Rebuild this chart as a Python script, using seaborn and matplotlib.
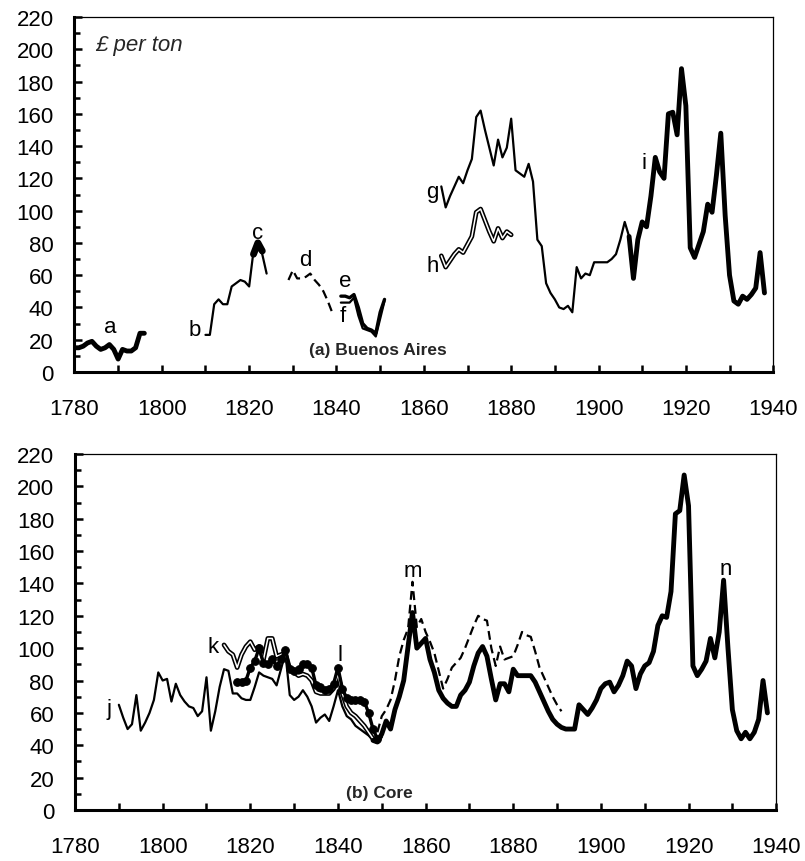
import numpy as np
import pandas as pd
import matplotlib
matplotlib.use("Agg")
import matplotlib.pyplot as plt
import seaborn as sns
from matplotlib.ticker import MultipleLocator

sns.set_theme(style="ticks")
plt.rcParams['font.family'] = ['Liberation Sans', 'DejaVu Sans']

# ---------------- Panel (a) Buenos Aires ----------------
a_years = list(range(1780, 1797))
a_vals = [15, 15, 16, 18, 19, 16, 14, 15, 17, 14, 8, 14, 13, 13, 15, 24, 24]

b_years = list(range(1810, 1825))
b_vals = [23, 23, 42, 45, 42, 42, 53, 55, 57, 56, 53, 75, 78, 73, 61]

c_years = [1821, 1822, 1823]
c_vals = [73, 80, 75]

d_years = list(range(1829, 1840))
d_vals = [57, 63, 58, 58, 59, 61, 57, 54, 50, 44, 37]

e_years = list(range(1841, 1852))
e_vals = [47, 47, 46, 48, 40, 30, 27, 26, 24, 37, 45]

f_years = list(range(1841, 1852))
f_vals = [43, 43, 43, 46, 35, 27, 26, 25, 22, 33, 44]

g_years = list(range(1864, 1908))
g_vals = [115, 102, 109, 115, 121, 117, 125, 132, 158, 162, 150, 139, 128, 144,
          133, 139, 157, 125, 123, 121, 129, 118, 82, 78, 55, 49, 45, 40, 39, 41,
          37, 65, 58, 61, 60, 68, 68, 68, 68, 70, 73, 82, 93, 84]

h_years = list(range(1864, 1881))
h_vals = [72, 65, 69, 73, 76, 74, 79, 84, 99, 101, 94, 87, 81, 89, 83, 87, 85]

i_years = list(range(1907, 1939))
i_vals = [84, 58, 82, 93, 90, 109, 133, 124, 120, 160, 161, 147, 188, 165, 77,
          71, 79, 87, 104, 99, 122, 148, 97, 60, 44, 42, 47, 45, 48, 52, 74, 49]

# ---------------- Panel (b) Core ----------------
j_years = list(range(1790, 1851))
j_vals = [65, 57, 50, 53, 71, 49, 54, 60, 68, 85, 80, 81, 67, 78, 71, 67, 64, 63,
          58, 61, 82, 49, 61, 76, 87, 86, 72, 72, 69, 68, 68, 76, 85, 83, 82, 81,
          77, 87, 97, 71, 68, 70, 74, 70, 64, 54, 57, 59, 55, 64, 74, 64, 58, 56,
          52, 50, 48, 46, 43, 42, 45]

k_years = list(range(1814, 1850))
k_vals = [102, 98, 96, 88, 96, 101, 104, 99, 101, 93, 106, 106, 95, 96, 97, 87,
          85, 83, 84, 83, 80, 73, 72, 72, 72, 75, 84, 72, 64, 60, 58, 55, 52, 48,
          44, 43]

l_years = list(range(1817, 1850))
l_vals = [79, 79, 80, 88, 92, 100, 91, 90, 93, 89, 93, 99, 87, 86, 87, 90, 90,
          88, 77, 76, 74, 75, 78, 88, 75, 69, 68, 68, 68, 67, 60, 50, 44]

m_years = list(range(1849, 1892))
m_vals = [48, 58, 62, 68, 80, 95, 105, 112, 141, 113, 118, 110, 104, 97, 86, 75,
          81, 88, 91, 94, 100, 107, 114, 120, 118, 117, 100, 89, 101, 93, 94, 95,
          102, 110, 108, 107, 98, 88, 82, 76, 70, 65, 61]

n_years = list(range(1848, 1939))
n_vals = [43, 42, 47, 55, 50, 62, 70, 80, 101, 122, 100, 103, 106, 93, 85, 74,
          69, 66, 64, 64, 71, 74, 79, 89, 97, 101, 95, 81, 68, 78, 78, 73, 87,
          83, 83, 83, 83, 79, 73, 67, 61, 56, 53, 51, 50, 50, 50, 65, 62, 59, 63,
          68, 75, 78, 79, 73, 77, 83, 92, 89, 75, 84, 89, 91, 98, 114, 120, 119,
          135, 183, 185, 207, 188, 89, 83, 87, 92, 106, 94, 110, 142, 100, 62,
          49, 44, 48, 44, 48, 56, 80, 60]

panel_titles = ["(a) Buenos Aires", "(b) Core"]
x_ticks = list(range(1780, 1941, 20))
y_ticks = list(range(0, 221, 20))

fig = plt.figure(figsize=(8.05, 8.62), dpi=100)
ax_a = fig.add_axes([0.0925, 0.5673, 0.868, 0.4118])
ax_b = fig.add_axes([0.0932, 0.0592, 0.871, 0.413])


def draw(ax, years, vals, **kw):
    df = pd.DataFrame({"year": years, "value": vals})
    sns.lineplot(data=df, x="year", y="value", ax=ax, estimator=None,
                 sort=False, legend=False, **kw)


def double(ax, years, vals):
    draw(ax, years, vals, color="black", linewidth=3.4)
    draw(ax, years, vals, color="white", linewidth=1.1)


THIN = 1.6
THICK = 3.5

# panel (a)
draw(ax_a, a_years, a_vals, color="black", linewidth=THICK)
draw(ax_a, b_years, b_vals, color="black", linewidth=THIN)
draw(ax_a, c_years, c_vals, color="black", linewidth=5)
draw(ax_a, d_years, d_vals, color="black", linewidth=THIN, linestyle=(0, (4, 2.2)))
draw(ax_a, f_years, f_vals, color="black", linewidth=THIN)
draw(ax_a, e_years, e_vals, color="black", linewidth=2.4)
draw(ax_a, g_years, g_vals, color="black", linewidth=THIN)
double(ax_a, h_years, h_vals)
draw(ax_a, i_years, i_vals, color="black", linewidth=THICK)

# panel (b)
draw(ax_b, j_years, j_vals, color="black", linewidth=THIN)
double(ax_b, k_years, k_vals)
draw(ax_b, l_years, l_vals, color="black", linewidth=2.4, marker="o",
     markersize=5.5, markeredgecolor="black", markerfacecolor="black")
draw(ax_b, m_years, m_vals, color="black", linewidth=THIN, linestyle=(0, (4, 2.2)))
draw(ax_b, n_years, n_vals, color="black", linewidth=THICK)

# letters
lab_kw = dict(fontsize=16, color="black", ha="center", va="center")
ax_a.text(1784.7, 203, "£ per ton", fontsize=16, style="italic", ha="left", va="center")
for t, x, y in [("a", 1788.1, 27.9), ("b", 1807.6, 26.6), ("c", 1822, 86.7),
                ("d", 1832.8, 70), ("e", 1842, 56.4), ("f", 1841.5, 34.7),
                ("g", 1861.9, 112), ("h", 1862.1, 65.7), ("i", 1910.4, 130)]:
    ax_a.text(x, y, t, **lab_kw)
for t, x, y in [("j", 1787.8, 63), ("k", 1811.4, 101), ("l", 1840.4, 96),
                ("m", 1857, 148), ("n", 1928.6, 149)]:
    ax_b.text(x, y, t, **lab_kw)

ax_a.text(1849.5, 14, panel_titles[0], fontsize=12.5, fontweight="bold",
          ha="center", va="center")
ax_b.text(1849.5, 11, panel_titles[1], fontsize=12.5, fontweight="bold",
          ha="center", va="center")

for ax in (ax_a, ax_b):
    ax.set_xlim(1780, 1940)
    ax.set_ylim(0, 220)
    ax.set_xticks(x_ticks)
    ax.set_yticks(y_ticks)
    ax.xaxis.set_minor_locator(MultipleLocator(10))
    ax.yaxis.set_minor_locator(MultipleLocator(10))
    ax.set_xlabel("")
    ax.set_ylabel("")
    ax.tick_params(which="both", direction="in", color="black", width=1.8,
                   top=False, right=False, labelsize=16, labelcolor="black")
    ax.tick_params(axis="y", which="major", length=6, pad=15)
    ax.tick_params(axis="y", which="minor", length=4)
    ax.tick_params(axis="x", which="both", length=5, pad=19)
    for s in ("left", "bottom"):
        ax.spines[s].set_linewidth(2.2)
        ax.spines[s].set_color("black")
    for s in ("top", "right"):
        ax.spines[s].set_linewidth(0.9)
        ax.spines[s].set_color("black")
    ax.set_facecolor("white")

fig.savefig("out.png", dpi=100, facecolor="white")
